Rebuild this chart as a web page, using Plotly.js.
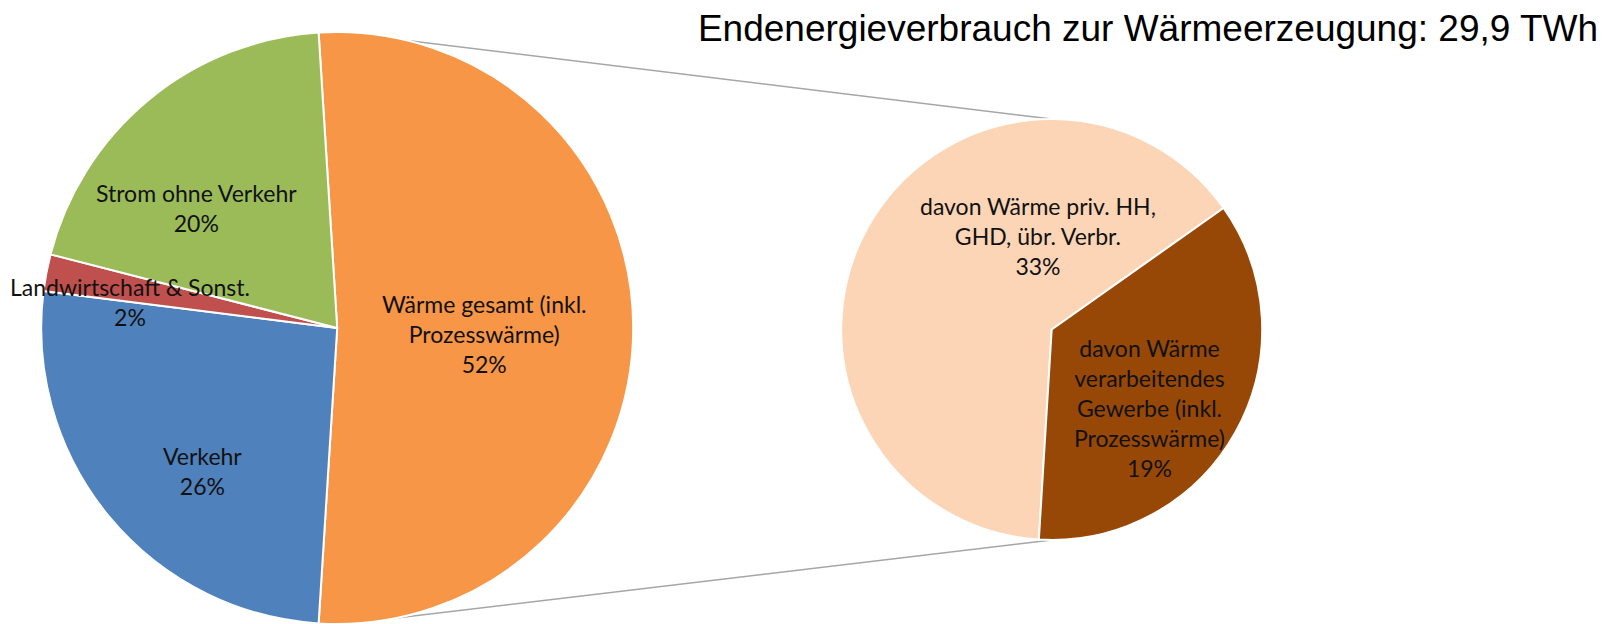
<!DOCTYPE html>
<html>
<head>
<meta charset="utf-8">
<script src="https://cdn.plot.ly/plotly-3.0.1.min.js"></script>
<style>html,body{margin:0;padding:0;background:#fff;}#chart{width:1604px;height:624px;}</style>
</head>
<body>
<div id="chart"></div>
<script>
// ---- data ----
const mainLabels = ['Wärme gesamt (inkl.<br>Prozesswärme)', 'Verkehr', 'Landwirtschaft & Sonst.', 'Strom ohne Verkehr'];
const mainValues = [52, 26, 2, 20];
const subLabels = ['davon Wärme priv. HH,<br>GHD, übr. Verbr.', 'davon Wärme<br>verarbeitendes<br>Gewerbe (inkl.<br>Prozesswärme)'];
const subValues = [33.4, 18.6];
const titleText = 'Endenergieverbrauch zur Wärmeerzeugung: 29,9 TWh';

// ---- styles / layout constants ----
const mainColors = ['#F79646', '#4F81BD', '#C0504D', '#9BBB59'];
const subColors = ['#FBD5B5', '#974806'];
const W = 1604, H = 624;
const mainPie = {cx: 337.2, cy: 328.5, r: 296.5};
const subPie = {cx: 1051.7, cy: 329.5, r: 210.5};
// label centres in pixels
const mainLabelPos = [[484, 334], [202, 471], [130, 302.5], [196, 208]];
const subLabelPos = [[1038, 236], [1149, 408]];
const labelFont = {family: 'Lato, "Open Sans", sans-serif', size: 23, color: '#111111'};

function domainOf(p) {
  return {
    x: [(p.cx - p.r) / W, (p.cx + p.r) / W],
    y: [1 - (p.cy + p.r) / H, 1 - (p.cy - p.r) / H]
  };
}
const px = x => x / W;
const py = y => 1 - y / H;

const mainTotal = mainValues.reduce((a, b) => a + b, 0);
// first slice (Wärme) centred on the 3 o'clock direction
const mainRotation = 90 - (mainValues[0] / mainTotal * 360) / 2;

const traces = [
  {
    type: 'pie', labels: mainLabels, values: mainValues, sort: false, direction: 'clockwise',
    rotation: mainRotation,
    marker: {colors: mainColors, line: {color: '#ffffff', width: 2}},
    textinfo: 'none', hoverinfo: 'label+percent', domain: domainOf(mainPie), showlegend: false
  },
  {
    type: 'pie', labels: subLabels, values: subValues, sort: false, direction: 'clockwise',
    rotation: 183.5,
    marker: {colors: subColors, line: {color: '#ffffff', width: 2}},
    textinfo: 'none', hoverinfo: 'label+value', domain: domainOf(subPie), showlegend: false
  }
];

const annotations = [];
mainLabels.forEach((l, i) => {
  annotations.push({xref: 'paper', yref: 'paper', x: px(mainLabelPos[i][0]), y: py(mainLabelPos[i][1]),
    xanchor: 'center', yanchor: 'middle', showarrow: false, align: 'center',
    text: l + '<br>' + mainValues[i].toFixed(0) + '%', font: labelFont});
});
subLabels.forEach((l, i) => {
  annotations.push({xref: 'paper', yref: 'paper', x: px(subLabelPos[i][0]), y: py(subLabelPos[i][1]),
    xanchor: 'center', yanchor: 'middle', showarrow: false, align: 'center',
    text: l + '<br>' + subValues[i].toFixed(0) + '%', font: labelFont});
});

const lineStyle = {color: '#A6A6A6', width: 1.5};
const shapes = [
  {type: 'line', xref: 'paper', yref: 'paper', layer: 'below',
   x0: px(mainPie.cx), y0: py(mainPie.cy - mainPie.r), x1: px(subPie.cx), y1: py(subPie.cy - subPie.r), line: lineStyle},
  {type: 'line', xref: 'paper', yref: 'paper', layer: 'below',
   x0: px(mainPie.cx), y0: py(mainPie.cy + mainPie.r), x1: px(subPie.cx), y1: py(subPie.cy + subPie.r), line: lineStyle}
];

const layout = {
  width: W, height: H,
  margin: {l: 0, r: 0, t: 0, b: 0},
  paper_bgcolor: '#ffffff', plot_bgcolor: '#ffffff',
  title: {text: titleText, xref: 'container', yref: 'container', x: 0.9963, xanchor: 'right',
          y: 1 - 28 / H, yanchor: 'middle',
          font: {family: '"Liberation Sans", Arial, sans-serif', size: 37, color: '#000000'}},
  annotations: annotations,
  shapes: shapes,
  showlegend: false
};

Plotly.newPlot('chart', traces, layout, {staticPlot: true});
</script>
</body>
</html>
